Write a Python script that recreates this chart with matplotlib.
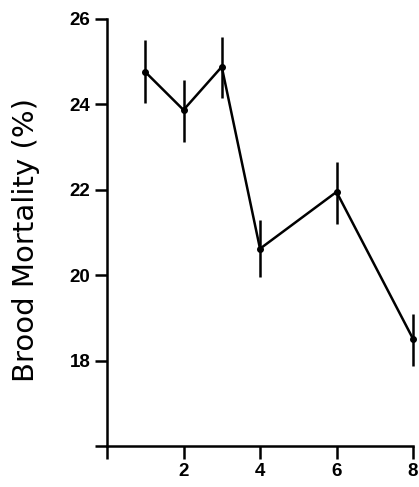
import matplotlib
matplotlib.use("Agg")
import matplotlib.pyplot as plt

# values
x = [1, 2, 3, 4, 6, 8]
mortality = [24.76, 23.87, 24.88, 20.62, 21.95, 18.51]
err_low = [0.72, 0.75, 0.73, 0.66, 0.75, 0.63]
err_high = [0.75, 0.70, 0.70, 0.68, 0.70, 0.59]

x_ticks = [0, 2, 4, 6, 8]
x_labels = ["", "2", "4", "6", "8"]
y_ticks = [16, 18, 20, 22, 24, 26]
y_labels = ["", "18", "20", "22", "24", "26"]

plt.rcParams['font.family'] = ['Liberation Sans', 'DejaVu Sans']

fig = plt.figure(figsize=(4.19, 4.87), dpi=100)
ax = fig.add_axes([0.2554, 0.0842, 0.7303, 0.8768])

ax.errorbar(x, mortality, yerr=[err_low, err_high], fmt='o-', color='black',
            lw=1.8, ms=4, elinewidth=1.8, capsize=0, clip_on=False)

ax.set_xlim(0, 8)
ax.set_ylim(16, 26)
ax.set_xticks(x_ticks)
ax.set_xticklabels(x_labels)
ax.set_yticks(y_ticks)
ax.set_yticklabels(y_labels)

for side in ['top', 'right']:
    ax.spines[side].set_visible(False)
for side in ['left', 'bottom']:
    ax.spines[side].set_linewidth(1.8)

ax.tick_params(direction='out', length=9, width=1.8, labelsize=13.5, pad=3)
for lab in ax.get_xticklabels() + ax.get_yticklabels():
    lab.set_fontweight('bold')

ax.set_ylabel("Brood Mortality (%)", fontsize=21, family=['DejaVu Sans'])
ax.yaxis.set_label_coords(-0.22, 0.482)

fig.savefig("out.png", dpi=100)
